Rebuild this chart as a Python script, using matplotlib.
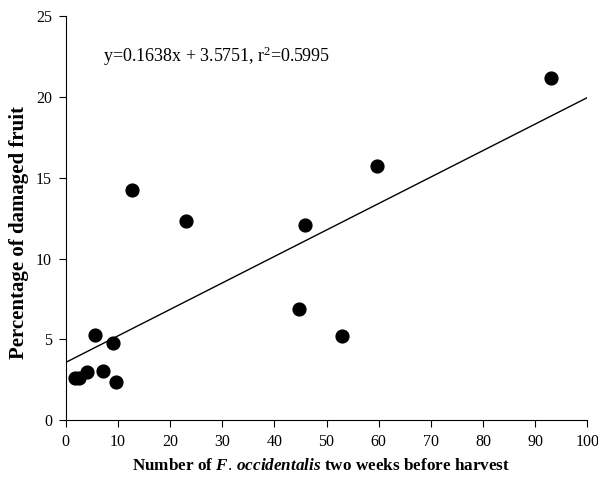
import numpy as np
import matplotlib
matplotlib.use("Agg")
import matplotlib.pyplot as plt

# data
thrips = [1.8, 2.6, 4.0, 5.6, 7.2, 9.1, 9.6, 12.7, 23.0, 44.7, 45.9, 53.0, 59.6, 93.1]
damaged = [2.6, 2.6, 3.0, 5.26, 3.05, 4.75, 2.35, 14.25, 12.3, 6.9, 12.05, 5.2, 15.7, 21.15]
slope = 0.1638
intercept = 3.5751
x_ticks = list(range(0, 101, 10))
y_ticks = [0, 5, 10, 15, 20, 25]

plt.rcParams['font.family'] = 'Liberation Serif'
plt.rcParams['mathtext.fontset'] = 'custom'
plt.rcParams['mathtext.rm'] = 'Liberation Serif'
plt.rcParams['mathtext.it'] = 'Liberation Serif:italic:bold'

fig = plt.figure(figsize=(5.98, 4.88), dpi=100)
ax = fig.add_axes([0.110, 0.139, 0.872, 0.828])

ax.scatter(thrips, damaged, s=85, color='black', zorder=3)
xl = np.array([0, 100])
ax.plot(xl, slope * xl + intercept, color='black', lw=1)

ax.text(7.1, 22.5, "y=0.1638x + 3.5751, r$^{\\mathrm{2}}$=0.5995", fontsize=13, va='center')

ax.set_xlim(0, 100)
ax.set_ylim(0, 25)
ax.set_xticks(x_ticks)
ax.set_yticks(y_ticks)
ax.spines['top'].set_visible(False)
ax.spines['right'].set_visible(False)
ax.tick_params(direction='out', length=5, width=0.8, labelsize=11.5, pad=5)
ax.set_xlabel("Number of $\\mathit{F.\\,occidentalis}$ two weeks before harvest",
              fontsize=12.3, fontweight='bold')
ax.xaxis.set_label_coords(0.49, -0.094)
ax.set_ylabel("Percentage of damaged fruit", fontsize=15, fontweight='bold')
ax.yaxis.set_label_coords(-0.07, 0.465)

fig.savefig("out.png", dpi=100)
